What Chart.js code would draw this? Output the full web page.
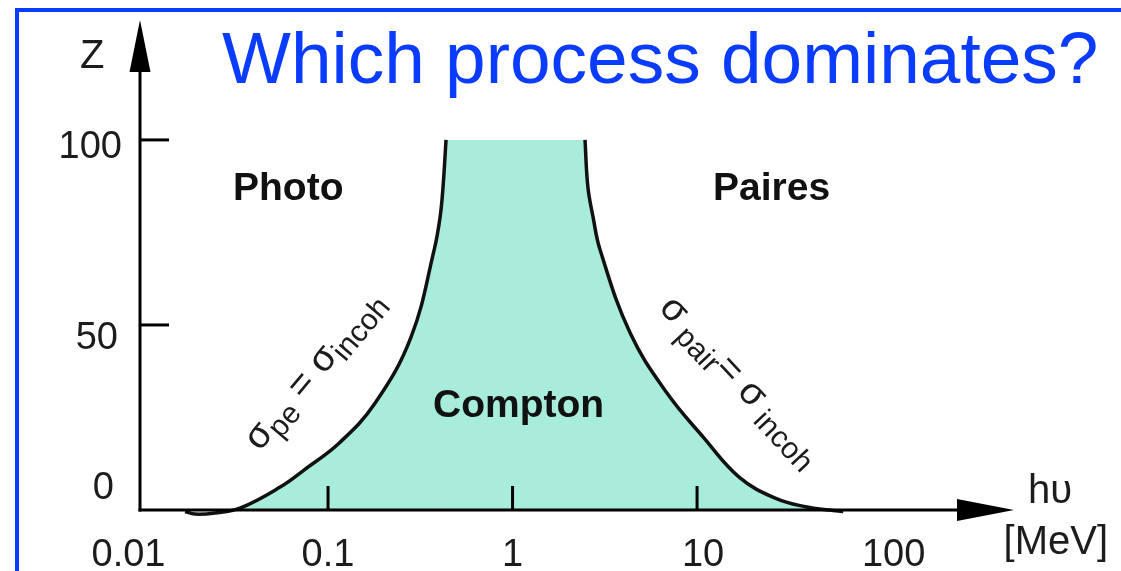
<!DOCTYPE html>
<html><head><meta charset="utf-8">
<script src="https://cdn.jsdelivr.net/npm/chart.js@4.4.1/dist/chart.umd.min.js"></script>
<style>
html,body{margin:0;padding:0;background:#fff;}
#wrap{position:relative;width:1121px;height:571px;overflow:hidden;background:#fff;}
#frame{position:absolute;left:15px;top:8px;width:1300px;height:800px;border-left:4px solid #0a3cff;border-top:4.5px solid #0a3cff;}
canvas{position:absolute;left:0;top:0;}
</style></head><body>
<div id="wrap"><div id="frame"></div><canvas id="c" width="1121" height="571"></canvas></div>
<script>
// ---- data ----
const titleText = 'Which process dominates?';
const yAxisName = 'Z';
const xAxisName = 'h\u03C5';
const xAxisUnit = '[MeV]';
const xTickValues = [0.01, 0.1, 1, 10, 100];
const xTickLabels = ['0.01', '0.1', '1', '10', '100'];
const xTickMarks = [0.1, 1, 10];
const yTickValues = [0, 50, 100];
const yTickLabels = ['0', '50', '100'];
const yTickMarks = [50, 100];
const regionNames = ['Photo', 'Compton', 'Paires'];
// boundary sigma_pe = sigma_incoh  (photon energy MeV, Z)
const leftEnergy = [0.0168, 0.019, 0.0244, 0.0333, 0.055, 0.0741, 0.115, 0.180, 0.282, 0.376, 0.405, 0.420, 0.436];
const leftZ      = [-0.4, -1.1, -0.8, 0.5, 6.2, 10.8, 18.1, 28.9, 46.8, 70.3, 79.2, 87.3, 100];
// boundary sigma_pair = sigma_incoh
const rightEnergy = [2.47, 2.56, 2.73, 2.98, 4.34, 6.87, 10.8, 16.9, 26.5, 39.4, 52, 62];
const rightZ      = [100, 87.3, 79.2, 70.3, 47.8, 31.6, 19.7, 8.9, 3.2, 0.8, 0, -0.4];

// region outline: left curve, flat top (Z = 100), right curve; the top corners are repeated
const leftPts = leftEnergy.map((e, i) => ({x: e, y: leftZ[i]}));
const rightPts = rightEnergy.map((e, i) => ({x: e, y: rightZ[i]}));
const boundary = leftPts.concat([leftPts[leftPts.length - 1]], [rightPts[0]], rightPts);
const gapIndex = leftPts.length; // segment along the top edge (no stroke)

const FONT = '"Liberation Sans", Arial, Helvetica, sans-serif';
const INK = '#1c1c1c';

function richText(ctx, x, y, deg, segs) {
  ctx.save();
  ctx.translate(x, y);
  ctx.rotate(deg * Math.PI / 180);
  ctx.textBaseline = 'alphabetic';
  ctx.textAlign = 'left';
  let cx = 0;
  for (const s of segs) {
    ctx.font = s.size + 'px ' + FONT;
    ctx.fillText(s.text, cx, s.drop || 0);
    cx += ctx.measureText(s.text).width;
  }
  ctx.restore();
}

const decor = {
  id: 'decor',
  afterDatasetsDraw(chart) {
    const ctx = chart.ctx;
    const xs = chart.scales.x, ys = chart.scales.y;
    const a = chart.chartArea;
    const x0 = a.left, y0 = ys.getPixelForValue(0);
    ctx.save();
    ctx.strokeStyle = '#000';
    ctx.fillStyle = '#000';
    ctx.lineWidth = 3;
    ctx.lineCap = 'butt';
    // y axis + arrow
    ctx.beginPath(); ctx.moveTo(x0, y0 + 1.5); ctx.lineTo(x0, a.top + 40); ctx.stroke();
    ctx.beginPath(); ctx.moveTo(x0, a.top); ctx.lineTo(x0 - 10.5, a.top + 52); ctx.lineTo(x0 + 10.5, a.top + 52); ctx.closePath(); ctx.fill();
    // x axis + arrow
    ctx.beginPath(); ctx.moveTo(x0 - 1.5, y0); ctx.lineTo(a.right - 40, y0); ctx.stroke();
    ctx.beginPath(); ctx.moveTo(a.right, y0); ctx.lineTo(a.right - 57, y0 - 11); ctx.lineTo(a.right - 57, y0 + 11); ctx.closePath(); ctx.fill();
    // tick marks
    yTickMarks.forEach(v => { const p = ys.getPixelForValue(v); ctx.beginPath(); ctx.moveTo(x0, p); ctx.lineTo(x0 + 29, p); ctx.stroke(); });
    xTickMarks.forEach(v => { const p = xs.getPixelForValue(v); ctx.beginPath(); ctx.moveTo(p, y0); ctx.lineTo(p, y0 - 24); ctx.stroke(); });

    // tick labels
    ctx.fillStyle = INK;
    ctx.font = '38px ' + FONT;
    ctx.textBaseline = 'alphabetic';
    ctx.textAlign = 'center';
    const xShift = {0.01: -15, 0.1: 0, 1: 0, 10: 6, 100: 12};
    xTickValues.forEach((v, i) => ctx.fillText(xTickLabels[i], xs.getPixelForValue(v) + xShift[v], 566));
    ctx.textAlign = 'right';
    const yBase = {0: -11, 50: 24, 100: 18};
    const yRight = {0: 114, 50: 118, 100: 122};
    yTickValues.forEach((v, i) => ctx.fillText(yTickLabels[i], yRight[v], ys.getPixelForValue(v) + yBase[v]));

    // axis names
    ctx.font = '40px ' + FONT;
    ctx.textAlign = 'left';
    ctx.fillText(yAxisName, 80, 68);
    ctx.fillText(xAxisName, 1028, 503);
    ctx.textAlign = 'right';
    ctx.fillText(xAxisUnit, 1108, 554);

    // region names
    ctx.fillStyle = '#111';
    ctx.font = 'bold 39px ' + FONT;
    ctx.textAlign = 'left';
    ctx.fillText(regionNames[0], 233, 200);
    ctx.fillText(regionNames[1], 433, 417);
    ctx.fillText(regionNames[2], 713, 200);

    // boundary labels
    ctx.fillStyle = INK;
    richText(ctx, 259.7, 452, -50, [
      {text: '\u03C3', size: 38}, {text: 'pe', size: 30, drop: 8},
      {text: ' = ', size: 38}, {text: '\u03C3', size: 38}, {text: 'incoh', size: 30, drop: 8}
    ]);
    richText(ctx, 658, 309, 47, [
      {text: '\u03C3', size: 38}, {text: ' pair', size: 30, drop: 8},
      {text: '= ', size: 38}, {text: '\u03C3', size: 38}, {text: ' incoh', size: 30, drop: 8}
    ]);

    // title
    ctx.fillStyle = '#0a3cff';
    ctx.font = '73px ' + FONT;
    ctx.textAlign = 'left';
    ctx.fillText(titleText, 222, 83);
    ctx.restore();
  }
};

new Chart(document.getElementById('c'), {
  type: 'scatter',
  data: {
    datasets: [{
      label: 'Compton',
      data: boundary,
      showLine: true,
      tension: 0.4,
      pointRadius: 0,
      borderColor: '#111',
      borderWidth: 3.5,
      backgroundColor: 'rgb(168,236,220)',
      fill: 'origin',
      clip: false,
      segment: {
        borderColor: c => c.p0DataIndex === gapIndex ? 'rgba(0,0,0,0)' : '#111'
      }
    }]
  },
  options: {
    responsive: false,
    animation: false,
    events: [],
    elements: {line: {capBezierPoints: false}},
    layout: {padding: {left: 140, right: 107, top: 20, bottom: 61}},
    plugins: {legend: {display: false}, tooltip: {enabled: false}, title: {display: false}},
    scales: {
      x: {type: 'logarithmic', min: 0.00957, max: 522, display: false},
      y: {type: 'linear', min: 0, max: 132.4, display: false}
    }
  },
  plugins: [decor]
});
</script>
</body></html>
